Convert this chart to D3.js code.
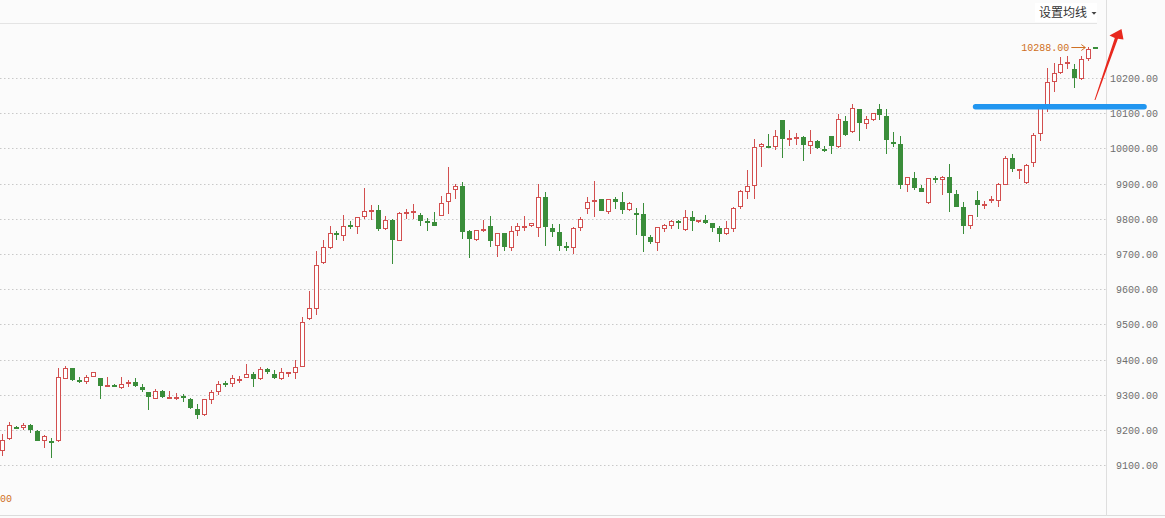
<!DOCTYPE html>
<html><head><meta charset="utf-8">
<script src="https://cdn.jsdelivr.net/npm/d3@7"></script>
<style>
html,body{margin:0;padding:0;background:#fbfbfb;}
svg{display:block;}
</style></head><body>
<svg id="chart" width="1165" height="518"></svg>
<script>
// ---- data ----
const opens = [9142,9174,9210,9205,9215,9198,9168,9169,9168,9346, 9375,9343,9337,9350,9347,9322,9329,9319,9330,9338, 9322,9307,9288,9312,9291,9292,9296,9289,9261,9244, 9285,9308,9334,9330,9344,9347,9359,9344,9373,9358, 9345,9362,9361,9380,9515,9545,9675,9718,9761,9750, 9782,9778,9804,9825,9826,9770,9798,9738,9818,9820, 9812,9795,9792,9809,9847,9881,9892,9766,9739,9769, 9780,9724,9759,9717,9765,9780,9779,9774,9862,9774, 9763,9723,9717,9773,9827,9847,9856,9820,9857,9847, 9824,9816,9814,9749,9732,9772,9781,9794,9769,9805, 9791,9796,9788,9773,9756,9772,9834,9876,9892,10005, 10007,10005,10081,10027,10028,10033,10008,10020,9999,10035, 10004,10077,10046,10112,10069,10080,10111,10092,10017,10013, 9897,9916,9888,9846,9915,9910,9919,9871,9834,9781, 9854,9839,9853,9850,9897,9972,9938,9901,9958,10040, 10116,10190,10213,10242,10226,10196,10253,10287];
const closes = [9171,9215,9208,9215,9199,9170,9184,9168,9351,9375, 9342,9341,9352,9366,9324,9328,9322,9331,9337,9324, 9314,9293,9312,9293,9295,9294,9294,9262,9244,9287, 9307,9332,9332,9347,9346,9358,9345,9373,9364,9348, 9364,9364,9380,9508,9546,9670,9719,9759,9756,9781, 9781,9804,9821,9826,9772,9798,9741,9816,9820,9822, 9794,9794,9781,9846,9872,9892,9764,9744,9768,9771, 9736,9759,9719,9765,9779,9781,9787,9862,9776,9764, 9724,9722,9775,9800,9849,9853,9823,9856,9849,9826, 9846,9810,9751,9734,9776,9782,9794,9787,9804,9795, 9796,9789,9775,9757,9773,9832,9880,9892,10003,10012, 10001,10035,10028,10029,10032,10011,10020,10000,9998,10008, 10083,10037,10114,10071,10083,10100,10096,10025,10016,9896, 9918,9888,9877,9915,9914,9918,9872,9835,9781,9810, 9840,9841,9855,9898,9972,9942,9941,9953,10038,10116, 10188,10213,10239,10245,10199,10254,10282,10285];
const highs = [9190,9224,9211,9221,9218,9199,9185,9178,9375,9383, 9376,9350,9356,9366,9347,9350,9330,9350,9343,9347, 9332,9309,9318,9313,9312,9304,9303,9292,9274,9288, 9315,9340,9340,9356,9354,9388,9365,9378,9376,9370, 9376,9364,9399,9522,9595,9708,9741,9780,9765,9810, 9793,9805,9887,9838,9839,9809,9799,9818,9828,9841, 9817,9802,9819,9864,9947,9900,9904,9769,9768,9797, 9808,9760,9760,9780,9788,9808,9788,9898,9875,9785, 9786,9734,9778,9804,9862,9907,9857,9857,9862,9875, 9847,9831,9844,9755,9777,9786,9798,9798,9825,9822, 9796,9810,9789,9780,9794,9833,9881,9938,10027,10015, 10040,10051,10082,10053,10043,10034,10053,10023,10006,10036, 10098,10092,10127,10113,10092,10101,10126,10112,10046,10036, 9919,9933,9895,9916,9922,9922,9956,9882,9847,9811, 9879,9852,9864,9901,9978,9984,9941,9955,10045,10117, 10227,10242,10259,10262,10239,10262,10288,10287];
const lows = [9125,9173,9206,9199,9193,9169,9150,9121,9167,9345, 9340,9333,9330,9350,9287,9322,9321,9318,9322,9322, 9309,9256,9287,9292,9291,9285,9279,9261,9231,9241, 9275,9299,9323,9321,9333,9347,9323,9343,9360,9345, 9342,9352,9346,9378,9513,9528,9672,9715,9739,9737, 9771,9756,9800,9798,9766,9769,9672,9736,9799,9799, 9780,9766,9780,9808,9815,9857,9744,9688,9738,9764, 9721,9693,9710,9708,9752,9766,9778,9747,9724,9747, 9708,9708,9700,9766,9815,9806,9822,9815,9828,9813, 9823,9755,9705,9728,9708,9763,9772,9771,9766,9766, 9787,9786,9764,9733,9755,9762,9828,9856,9857,9948, 10000,9996,9974,10007,10010,9963,9984,9998,9991,9984, 10001,10036,10045,10022,10056,10079,10080,9983,10005,9885, 9875,9882,9877,9843,9903,9869,9818,9834,9756,9772, 9806,9829,9846,9835,9896,9932,9912,9900,9948,10021, 10104,10161,10212,10226,10171,10194,10248,10285];
const categories = opens.map((d, i) => i);
const yTicks = [9100,9200,9300,9400,9500,9600,9700,9800,9900,10000,10100,10200];
const maxLabel = "10288.00";
const maxIndex = 156;
const maxValue = 10288;
const menuLabel = "设置均线";
const levelValue = 10118;     // hand-drawn blue level line
const levelSpan = [139.8, 164];

// ---- layout ----
const W = 1165, H = 518;
const axisX = 1106.5;
const RED = "#d24f4f", GREEN = "#3a8d3a", BG = "#fbfbfb";

const svg = d3.select("#chart");
const x = d3.scaleLinear().domain([0, categories.length - 1]).range([2.3, 1095.3]);
const y = d3.scaleLinear().domain([9100, 10200]).range([465.3, 78]);

svg.append("rect").attr("width", W).attr("height", H).attr("fill", BG);

// header line
svg.append("line").attr("x1", 0).attr("x2", 1097).attr("y1", 23.5).attr("y2", 23.5)
  .attr("stroke", "#e4e4e4");
// bottom line
svg.append("line").attr("x1", 0).attr("x2", W).attr("y1", 515.5).attr("y2", 515.5)
  .attr("stroke", "#dcdcdc");
// axis line
svg.append("line").attr("x1", axisX).attr("x2", axisX).attr("y1", 0).attr("y2", 516)
  .attr("stroke", "#dedede");

// grid
svg.append("g").selectAll("line").data(yTicks).join("line")
  .attr("x1", 0).attr("x2", axisX - 1)
  .attr("y1", d => Math.round(y(d)) + 0.5).attr("y2", d => Math.round(y(d)) + 0.5)
  .attr("stroke", "#c9c9c9").attr("stroke-dasharray", "1.5,2.5");

// axis
const axis = d3.axisRight(y).tickValues(yTicks).tickFormat(d3.format(".2f")).tickSize(0);
const gAxis = svg.append("g").attr("transform", `translate(${axisX},0)`).call(axis);
gAxis.select(".domain").remove();
gAxis.selectAll("text").attr("x", 51.5).attr("text-anchor", "end").attr("dy", "0.35em")
  .attr("fill", "#6e6e6e").style("font-family", "'Liberation Mono', 'DejaVu Sans Mono', monospace")
  .style("font-size", "10px");

// candles
const candles = svg.append("g").selectAll("g").data(categories).join("g");
candles.each(function(i) {
  const g = d3.select(this);
  const up = closes[i] >= opens[i];
  const col = up ? RED : GREEN;
  const cx = Math.round(x(i));
  const top = Math.round(y(Math.max(opens[i], closes[i])));
  let bot = Math.round(y(Math.min(opens[i], closes[i])));
  if (bot - top < 1) bot = top + 1;
  const hy = Math.round(y(highs[i])), ly = Math.round(y(lows[i]));
  g.append("line").attr("x1", cx + 0.5).attr("x2", cx + 0.5).attr("y1", hy).attr("y2", ly)
    .attr("stroke", col).attr("stroke-width", 1);
  if (up) {
    if (bot - top >= 2) {
      g.append("rect").attr("x", cx - 1.5).attr("y", top + 0.5).attr("width", 4).attr("height", bot - top - 1)
        .attr("fill", "#ffffff").attr("stroke", col).attr("stroke-width", 1);
    } else {
      g.append("rect").attr("x", cx - 2).attr("y", top).attr("width", 5).attr("height", Math.max(2, bot - top))
        .attr("fill", col);
    }
  } else {
    g.append("rect").attr("x", cx - 2).attr("y", top).attr("width", 5).attr("height", Math.max(2, bot - top))
      .attr("fill", col);
  }
});

// max price label with arrow
const mono = "'Liberation Mono', 'DejaVu Sans Mono', monospace";
const ORANGE = "#cf6f22";
const mxX = x(maxIndex), mxY = y(maxValue);
svg.append("text").attr("x", mxX - 19).attr("y", mxY).attr("dy", "0.35em")
  .attr("text-anchor", "end").attr("fill", ORANGE)
  .style("font-family", mono).style("font-size", "10px").text(maxLabel);
svg.append("path")
  .attr("d", `M${mxX - 17},${mxY + 0.5} L${mxX - 3},${mxY + 0.5} M${mxX - 7},${mxY - 2.5} L${mxX - 3},${mxY + 0.5} L${mxX - 7},${mxY + 3.5}`)
  .attr("fill", "none").attr("stroke", ORANGE).attr("stroke-width", 1);

// cut-off low label at bottom-left
svg.append("text").attr("x", 0).attr("y", 498).attr("dy", "0.35em").attr("fill", ORANGE)
  .style("font-family", mono).style("font-size", "10px").text("00");

// menu header
svg.append("rect").attr("x", 1035).attr("y", 3).attr("width", 62).attr("height", 19).attr("fill", "#ffffff");
svg.append("text").attr("x", 1039).attr("y", 13).attr("dy", "0.35em").attr("fill", "#333")
  .style("font-family", "'Noto Sans CJK SC', sans-serif").style("font-size", "12px").text(menuLabel);
svg.append("path").attr("d", "M1091.5,12 L1096.5,12 L1094,14.8 Z").attr("fill", "#444");

// hand-drawn blue level line
svg.append("line")
  .attr("x1", x(levelSpan[0])).attr("x2", x(levelSpan[1]))
  .attr("y1", y(levelValue)).attr("y2", y(levelValue))
  .attr("stroke", "#2196f0").attr("stroke-width", 5.5).attr("stroke-linecap", "round");

// hand-drawn red arrow (index/value coordinates through scales)
const arrowPts = [[156.88,10137.5],[159.8,10313.6],[159.04,10320.7],[160.76,10339],[161.05,10309.3],[160.25,10311.3],[157.02,10137.5]];
svg.append("path")
  .attr("d", d3.line().x(p => x(p[0])).y(p => y(p[1]))(arrowPts) + "Z")
  .attr("fill", "#e8281e");
</script>
</body></html>
